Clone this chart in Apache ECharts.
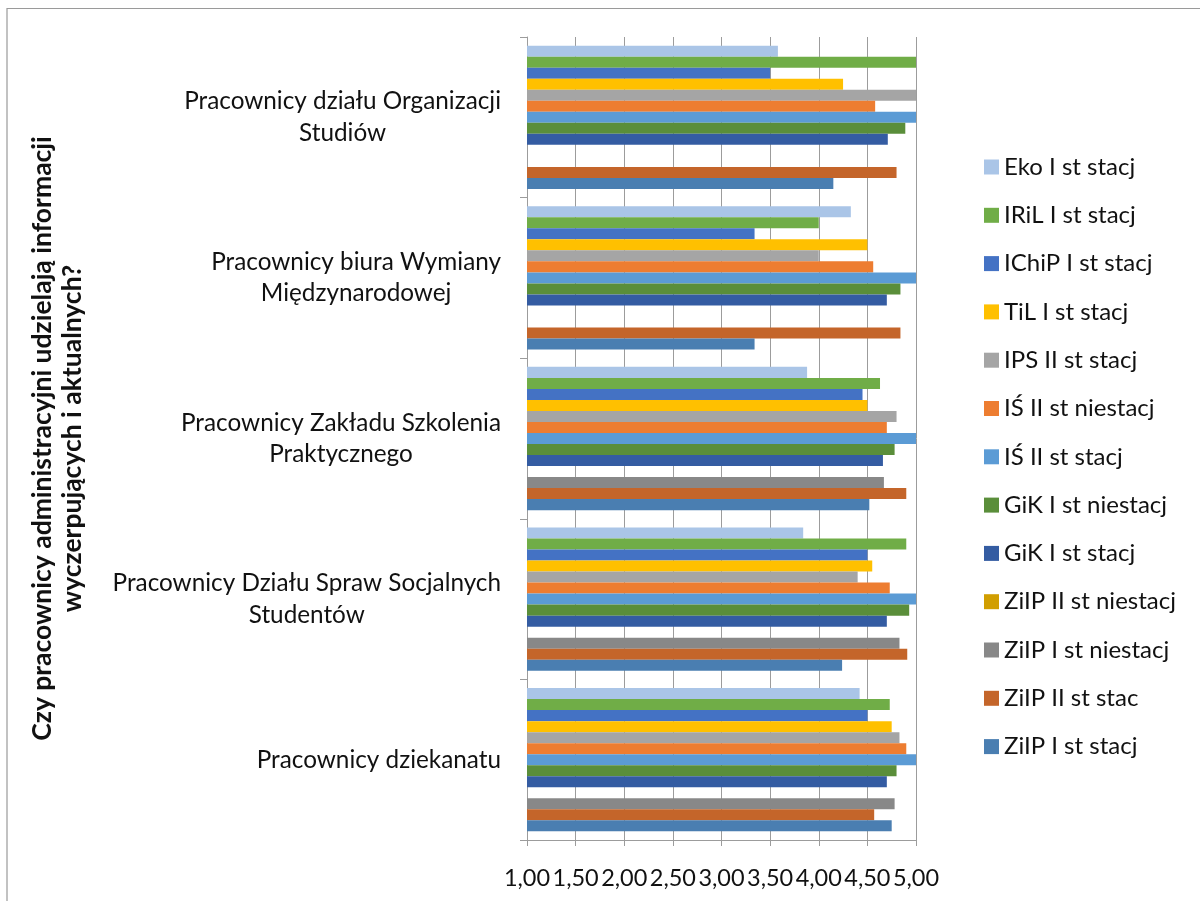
<!DOCTYPE html>
<html>
<head>
<meta charset="utf-8">
<script src="https://cdn.jsdelivr.net/npm/echarts@6/dist/echarts.min.js"></script>
<style>
  html, body { margin: 0; padding: 0; background: #ffffff; }
  #chart { width: 1200px; height: 901px; }
</style>
</head>
<body>
<div id="chart"></div>
<script>
// Categories, top to bottom
const categories = [
  'Pracownicy działu Organizacji\nStudiów',
  'Pracownicy biura Wymiany\nMiędzynarodowej',
  'Pracownicy Zakładu Szkolenia\nPraktycznego',
  'Pracownicy Działu Spraw Socjalnych\nStudentów',
  'Pracownicy dziekanatu'
];

// Series names (legend order, top to bottom inside each group)
const seriesNames = [
  'Eko I st stacj', 'IRiL I st stacj', 'IChiP I st stacj', 'TiL I st stacj',
  'IPS II st stacj', 'IŚ II st niestacj', 'IŚ II st stacj', 'GiK I st niestacj',
  'GiK I st stacj', 'ZiIP II st niestacj', 'ZiIP I st niestacj', 'ZiIP II st stac',
  'ZiIP I st stacj'
];

// Mean ratings per group (same order as categories)
const ekoIStacj       = [3.58, 4.33, 3.88, 3.84, 4.42];
const irilIStacj      = [5.00, 4.00, 4.63, 4.90, 4.73];
const ichipIStacj     = [3.50, 3.34, 4.45, 4.50, 4.50];
const tilIStacj       = [4.25, 4.50, 4.50, 4.55, 4.75];
const ipsIIStacj      = [5.00, 4.00, 4.80, 4.40, 4.83];
const isIINiestacj    = [4.58, 4.56, 4.70, 4.73, 4.90];
const isIIStacj       = [5.00, 5.00, 5.00, 5.00, 5.00];
const gikINiestacj    = [4.89, 4.84, 4.78, 4.93, 4.80];
const gikIStacj       = [4.71, 4.70, 4.66, 4.70, 4.70];
const ziipIINiestacj  = [null, null, null, null, null];
const ziipINiestacj   = [null, null, 4.67, 4.83, 4.78];
const ziipIIStac      = [4.80, 4.84, 4.90, 4.91, 4.57];
const ziipIStacj      = [4.15, 3.34, 4.52, 4.24, 4.75];

const seriesValues = [
  ekoIStacj, irilIStacj, ichipIStacj, tilIStacj, ipsIIStacj, isIINiestacj,
  isIIStacj, gikINiestacj, gikIStacj, ziipIINiestacj, ziipINiestacj,
  ziipIIStac, ziipIStacj
];

const seriesColors = [
  '#AAC5E7', '#70AD47', '#4472C4', '#FFC000', '#A5A5A5', '#ED7D31',
  '#5B9BD5', '#5A8E3A', '#345CA2', '#D19E00', '#888888', '#C4652A',
  '#4A7EB1'
];

// Value axis range and tick step
const axisMin = 1;
const axisMax = 5;
const axisStep = 0.5;

const yTitle = 'Czy pracownicy administracyjni udzielają informacji\nwyczerpujących i aktualnych?';

const FONT = 'Lato, "Noto Sans", sans-serif';
const AXIS_GRAY = '#9c9c9c';

const chart = echarts.init(document.getElementById('chart'), null, { renderer: 'canvas' });

const series = seriesNames.map((name, i) => ({
  name: name,
  type: 'bar',
  data: seriesValues[i],
  barGap: '0%',
  barCategoryGap: '10.8%',
  itemStyle: { color: seriesColors[i] },
  emphasis: { disabled: true }
}));

chart.setOption({
  backgroundColor: '#ffffff',
  animation: false,
  textStyle: { fontFamily: FONT },
  graphic: [{
    type: 'rect',
    silent: true,
    z: -10,
    shape: { x: 7, y: 8.5, width: 1250, height: 950 },
    style: { fill: 'none', stroke: '#9a9a9a', lineWidth: 1.2 }
  }],
  legend: {
    orient: 'vertical',
    left: 979,
    top: 149,
    icon: 'rect',
    itemWidth: 15,
    itemHeight: 15,
    itemGap: 22.3,
    data: seriesNames,
    textStyle: { fontFamily: FONT, fontSize: 24, color: '#111', lineHeight: 26 },
    selectedMode: false
  },
  grid: {
    left: 527,
    top: 37,
    width: 389,
    height: 803,
    outerBoundsMode: 'none'
  },
  xAxis: {
    type: 'value',
    min: axisMin,
    max: axisMax,
    interval: axisStep,
    axisLine: { show: true, lineStyle: { color: AXIS_GRAY, width: 1 } },
    axisTick: { show: true, length: 6, lineStyle: { color: AXIS_GRAY } },
    splitLine: { show: true, lineStyle: { color: AXIS_GRAY, width: 1 } },
    axisLabel: {
      fontFamily: FONT,
      fontSize: 23.5,
      color: '#111',
      margin: 26,
      hideOverlap: false,
      formatter: v => v.toFixed(2).replace('.', ',')
    }
  },
  yAxis: {
    type: 'category',
    inverse: true,
    data: categories,
    name: yTitle,
    nameLocation: 'middle',
    nameRotate: 90,
    nameGap: 440,
    nameTextStyle: {
      fontFamily: FONT,
      fontWeight: 'bold',
      fontSize: 26.5,
      lineHeight: 30,
      color: '#111'
    },
    axisLine: { show: true, lineStyle: { color: AXIS_GRAY, width: 1 } },
    axisTick: { show: true, length: 7, lineStyle: { color: AXIS_GRAY } },
    splitLine: { show: false },
    axisLabel: {
      margin: 26,
      interval: 0,
      formatter: v => v.split('\n').map(s => '{c|' + s + '}').join('\n'),
      rich: {
        c: { align: 'center', fontFamily: FONT, fontSize: 24.3, lineHeight: 31.5, color: '#111' }
      }
    }
  },
  series: series
});
</script>
</body>
</html>
